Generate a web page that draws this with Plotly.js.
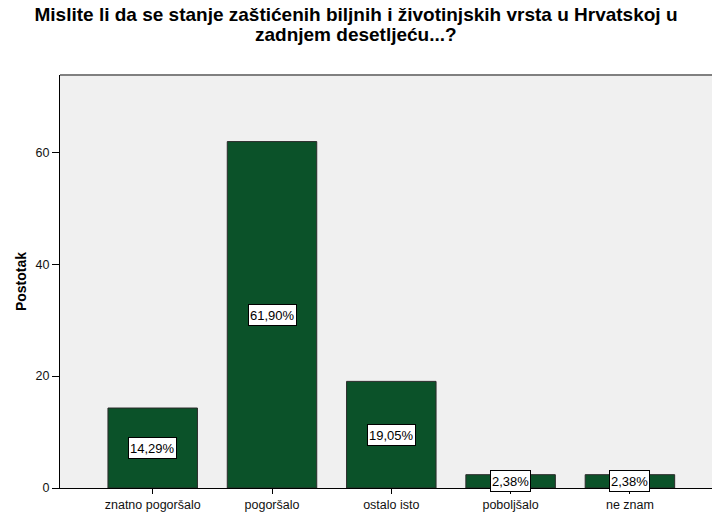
<!DOCTYPE html>
<html>
<head>
<meta charset="utf-8">
<script src="https://cdn.plot.ly/plotly-3.0.1.min.js"></script>
<style>html,body{margin:0;padding:0;background:#fff;}#chart{width:712px;height:512px;}</style>
</head>
<body>
<div id="chart"></div>
<script>
const categories = ["znatno pogoršalo", "pogoršalo", "ostalo isto", "poboljšalo", "ne znam"];
const percentages = [14.29, 61.90, 19.05, 2.38, 2.38];
const barLabels = ["14,29%", "61,90%", "19,05%", "2,38%", "2,38%"];
const yTicks = [0, 20, 40, 60];
const titleLines = ["Mislite li da se stanje zaštićenih biljnih i životinjskih vrsta u Hrvatskoj u", "zadnjem desetljeću...?"];

const FONT = "Liberation Sans, Arial, sans-serif";

const trace = {
  type: "bar",
  x: categories,
  y: percentages,
  width: 0.75,
  marker: {color: "#0b5229", line: {color: "#2a2a2a", width: 1}},
  hoverinfo: "none"
};

const annotations = categories.map((c, i) => ({
  x: c, y: percentages[i] / 2, xref: "x", yref: "y",
  text: barLabels[i], showarrow: false,
  font: {family: FONT, size: 13, color: "#000"},
  height: 18, valign: "middle",
  bgcolor: "#ffffff", bordercolor: "#000000", borderwidth: 1, borderpad: 1
}));

annotations.push({
  text: "<b>" + titleLines[1] + "</b>",
  xref: "paper", yref: "paper", x: (356 - 60) / 652, xanchor: "center",
  y: 1 + (75 - 47) / 413, yanchor: "bottom",
  showarrow: false,
  font: {family: FONT, size: 19, color: "#000"}
});

const layout = {
  width: 712, height: 512,
  margin: {l: 60, r: 0, t: 75, b: 24, pad: 0},
  paper_bgcolor: "#ffffff",
  plot_bgcolor: "#f0f0f0",
  showlegend: false,
  title: {
    text: "<b>" + titleLines[0] + "</b>",
    font: {family: FONT, size: 19, color: "#000"},
    x: 0.5, xref: "container", xanchor: "center",
    y: 1 - 8 / 512, yref: "container", yanchor: "top"
  },
  xaxis: {
    type: "category",
    range: [-0.777, 4.688],
    showline: true, linecolor: "#000", linewidth: 1,
    ticks: "outside", ticklen: 5, tickcolor: "#000", tickwidth: 1,
    tickfont: {family: FONT, size: 12.5, color: "#111"},
    showgrid: false, zeroline: false, fixedrange: true
  },
  yaxis: {
    range: [0, 73.8],
    tickvals: yTicks,
    showline: true, linecolor: "#000", linewidth: 1,
    ticks: "outside", ticklen: 7, tickcolor: "#000", tickwidth: 1,
    tickfont: {family: FONT, size: 12.5, color: "#111"},
    showgrid: false, zeroline: false, fixedrange: true,
    title: {text: "<b>Postotak</b>", font: {family: FONT, size: 14, color: "#000"}, standoff: 5}
  },
  shapes: [{
    type: "line", xref: "paper", yref: "paper", x0: 0, x1: 1, y0: 1, y1: 1,
    line: {color: "#808080", width: 2}
  }],
  annotations: annotations
};

Plotly.newPlot("chart", [trace], layout, {displayModeBar: false, staticPlot: true});
</script>
</body>
</html>
